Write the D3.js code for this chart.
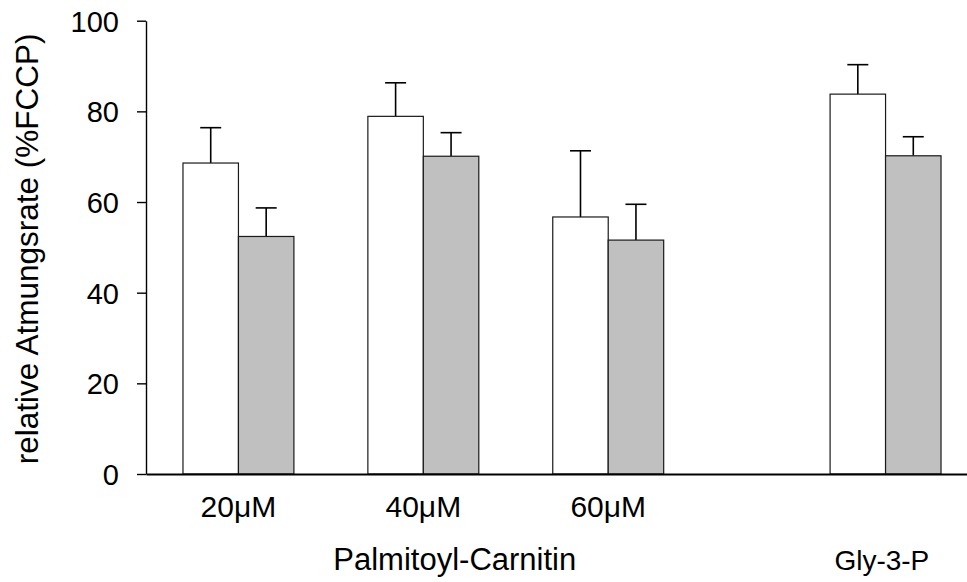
<!DOCTYPE html>
<html>
<head>
<meta charset="utf-8">
<script src="https://cdn.jsdelivr.net/npm/d3@7"></script>
<style>
  body { margin: 0; background: #fff; }
  text { font-family: Arial, "Liberation Sans", sans-serif; fill: #000; }
</style>
</head>
<body>
<div id="chart"></div>
<script>
// values
const groupLabels = ["20μM", "40μM", "60μM"];
const groupPositions = [1, 2, 3, 4.5];
const whiteValues = [68.6, 78.9, 56.7, 83.8];
const whiteErrors = [7.8, 7.4, 14.6, 6.5];
const grayValues = [52.4, 70.1, 51.6, 70.2];
const grayErrors = [6.3, 5.2, 7.9, 4.2];
const yTicks = [0, 20, 40, 60, 80, 100];
const yTitle = "relative Atmungsrate (%FCCP)";
const substanceLabels = [
  { text: "Palmitoyl-Carnitin", pos: 2.17, size: 31 },
  { text: "Gly-3-P", pos: 4.48, size: 28 }
];

const width = 967, height = 582;
const barWidth = 0.3;

const svg = d3.select("#chart")
  .append("svg")
  .attr("width", width)
  .attr("height", height);

const xScale = d3.scaleLinear().domain([0.5, 5]).range([146, 978]);
const yScale = d3.scaleLinear().domain([0, 100]).range([474, 20.7]);

const bars = [];
groupPositions.forEach((p, i) => {
  bars.push({ x0: p - barWidth, x1: p, v: whiteValues[i], e: whiteErrors[i], fill: "#ffffff" });
  bars.push({ x0: p, x1: p + barWidth, v: grayValues[i], e: grayErrors[i], fill: "#c0c0c0" });
});

// error bars (upper half only, drawn behind the bars)
const err = svg.append("g");
err.selectAll("line.stem")
  .data(bars)
  .join("line")
  .attr("class", "stem")
  .attr("x1", d => xScale((d.x0 + d.x1) / 2))
  .attr("x2", d => xScale((d.x0 + d.x1) / 2))
  .attr("y1", d => yScale(d.v))
  .attr("y2", d => yScale(d.v + d.e))
  .attr("stroke", "#000")
  .attr("stroke-width", 1.6);

err.selectAll("line.cap")
  .data(bars)
  .join("line")
  .attr("class", "cap")
  .attr("x1", d => xScale((d.x0 + d.x1) / 2) - 10.5)
  .attr("x2", d => xScale((d.x0 + d.x1) / 2) + 10.5)
  .attr("y1", d => yScale(d.v + d.e))
  .attr("y2", d => yScale(d.v + d.e))
  .attr("stroke", "#000")
  .attr("stroke-width", 1.6);

svg.append("g")
  .selectAll("rect")
  .data(bars)
  .join("rect")
  .attr("x", d => xScale(d.x0))
  .attr("width", d => xScale(d.x1) - xScale(d.x0))
  .attr("y", d => yScale(d.v))
  .attr("height", d => yScale(0) - yScale(d.v))
  .attr("fill", d => d.fill)
  .attr("stroke", "#1a1a1a")
  .attr("stroke-width", 1.2);

// axes
const yAxis = d3.axisLeft(yScale)
  .tickValues(yTicks)
  .tickSize(9)
  .tickSizeOuter(0)
  .tickPadding(18);

const yG = svg.append("g")
  .attr("transform", `translate(${xScale(0.5)},0)`)
  .call(yAxis);
yG.selectAll("text")
  .style("font-size", "29px")
  .style("font-family", "Arial, 'Liberation Sans', sans-serif")
  .attr("dy", "0.36em");
yG.selectAll("line, path").attr("stroke", "#000").attr("stroke-width", 1.4);

const xAxis = d3.axisBottom(xScale).tickValues([]).tickSizeOuter(0);
svg.append("g")
  .attr("transform", `translate(0,${yScale(0)})`)
  .call(xAxis)
  .select("path")
  .attr("stroke", "#000")
  .attr("stroke-width", 1.8);

// labels
svg.append("g")
  .selectAll("text")
  .data(groupLabels)
  .join("text")
  .attr("x", (d, i) => xScale(groupPositions[i]))
  .attr("y", 517)
  .attr("text-anchor", "middle")
  .style("font-size", "30px")
  .text(d => d);

svg.append("g")
  .selectAll("text")
  .data(substanceLabels)
  .join("text")
  .attr("x", d => xScale(d.pos))
  .attr("y", 570)
  .attr("text-anchor", "middle")
  .style("font-size", d => d.size + "px")
  .text(d => d.text);

svg.append("text")
  .attr("transform", `translate(38,${(yScale(0) + yScale(100)) / 2 + 1.5}) rotate(-90)`)
  .attr("text-anchor", "middle")
  .style("font-size", "31.5px")
  .text(yTitle);
</script>
</body>
</html>
